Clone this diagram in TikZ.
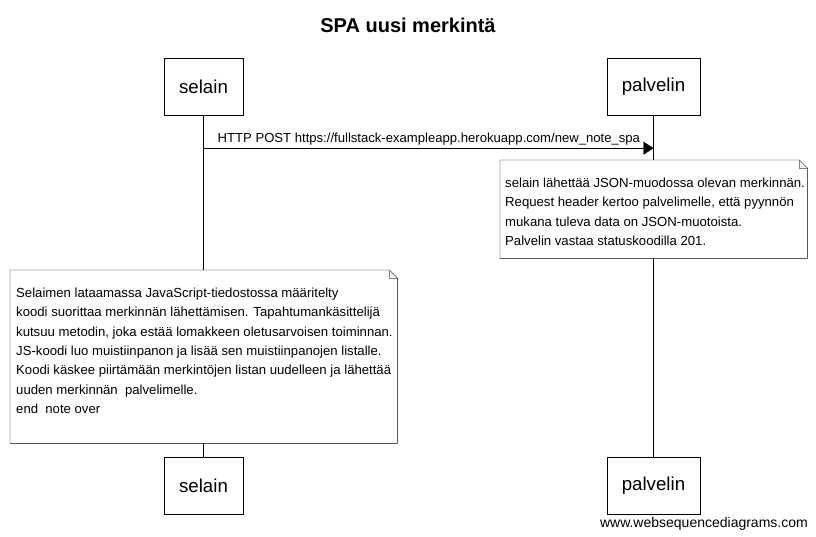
\documentclass[tikz,border=0pt]{standalone}
\usepackage{fontspec}
\setmainfont{Liberation Sans}
\usetikzlibrary{positioning,arrows.meta}

\begin{document}
\begin{tikzpicture}[x=1pt, y=-1pt, >={Triangle[length=10pt,width=13pt]},
actor/.style={draw, inner xsep=15pt, minimum height=57pt, font=\fontsize{18.7}{20}\selectfont},
notebox/.style={fill=white, inner sep=0pt, anchor=north west},
notetext/.style={align=left, inner sep=0pt, anchor=north west, font=\fontsize{13.15}{19.4}\selectfont}
]
\useasboundingbox (0,0) rectangle (816,537);

\node (title) at (408,25) {\fontsize{20}{24}\selectfont\bfseries SPA uusi merkintä};

\node (selTop) [actor] at (203.5,86.5) {selain};
\node (palTop) [actor] at (653.5,86.5) {palvelin};
\node (selBot) [actor, below=342pt of selTop] {selain};
\node (palBot) [actor, below=342pt of palTop] {palvelin};

% lifelines
\draw (selTop) -- (selBot);
\draw (palTop) -- (palBot);

\draw[->] ([yshift=-33pt]selTop.south) -- ([yshift=-33pt]palTop.south)
  node [at start, above right, xshift=11pt, inner sep=3pt, font=\fontsize{13.1}{15}\selectfont] {HTTP POST https://fullstack-exampleapp.herokuapp.com/new\_note\_spa};

% note over palvelin
\node (noteB) [notebox, minimum width=307pt, minimum height=98pt] at (500,160) {};
\draw (noteB.north west) -- ([xshift=-8pt]noteB.north east) -- ([yshift=-8pt]noteB.north east) -- (noteB.south east) -- (noteB.south west) -- cycle;
\draw[gray] ([xshift=-8pt]noteB.north east) -- ([xshift=-8pt,yshift=-8pt]noteB.north east) -- ([yshift=-8pt]noteB.north east);
\node (textB) [notetext] at ([xshift=5pt,yshift=-17.5pt]noteB.north west) {selain lähettää JSON-muodossa olevan merkinnän.\\
Request header kertoo palvelimelle, että pyynnön\\
mukana tuleva data on JSON-muotoista.\\
Palvelin vastaa statuskoodilla 201.};

% note over selain
\node (noteA) [notebox, minimum width=387pt, minimum height=173pt] at (10,270) {};
\draw (noteA.north west) -- ([xshift=-8pt]noteA.north east) -- ([yshift=-8pt]noteA.north east) -- (noteA.south east) -- (noteA.south west) -- cycle;
\draw[gray] ([xshift=-8pt]noteA.north east) -- ([xshift=-8pt,yshift=-8pt]noteA.north east) -- ([yshift=-8pt]noteA.north east);
\node (textA) [notetext] at ([xshift=6pt,yshift=-17.5pt]noteA.north west) {Selaimen lataamassa JavaScript-tiedostossa määritelty\\
koodi suorittaa merkinnän lähettämisen. Tapahtumankäsittelijä\\
kutsuu metodin, joka estää lomakkeen oletusarvoisen toiminnan.\\
JS-koodi luo muistiinpanon ja lisää sen muistiinpanojen listalle.\\
Koodi käskee piirtämään merkintöjen listan uudelleen ja lähettää\\
uuden merkinnän\ \ palvelimelle.\\
end\ \ note over};

\node (credit) [anchor=base east, inner sep=0pt, font=\fontsize{14}{16}\selectfont] at (808,527) {www.websequencediagrams.com};

\end{tikzpicture}
\end{document}
